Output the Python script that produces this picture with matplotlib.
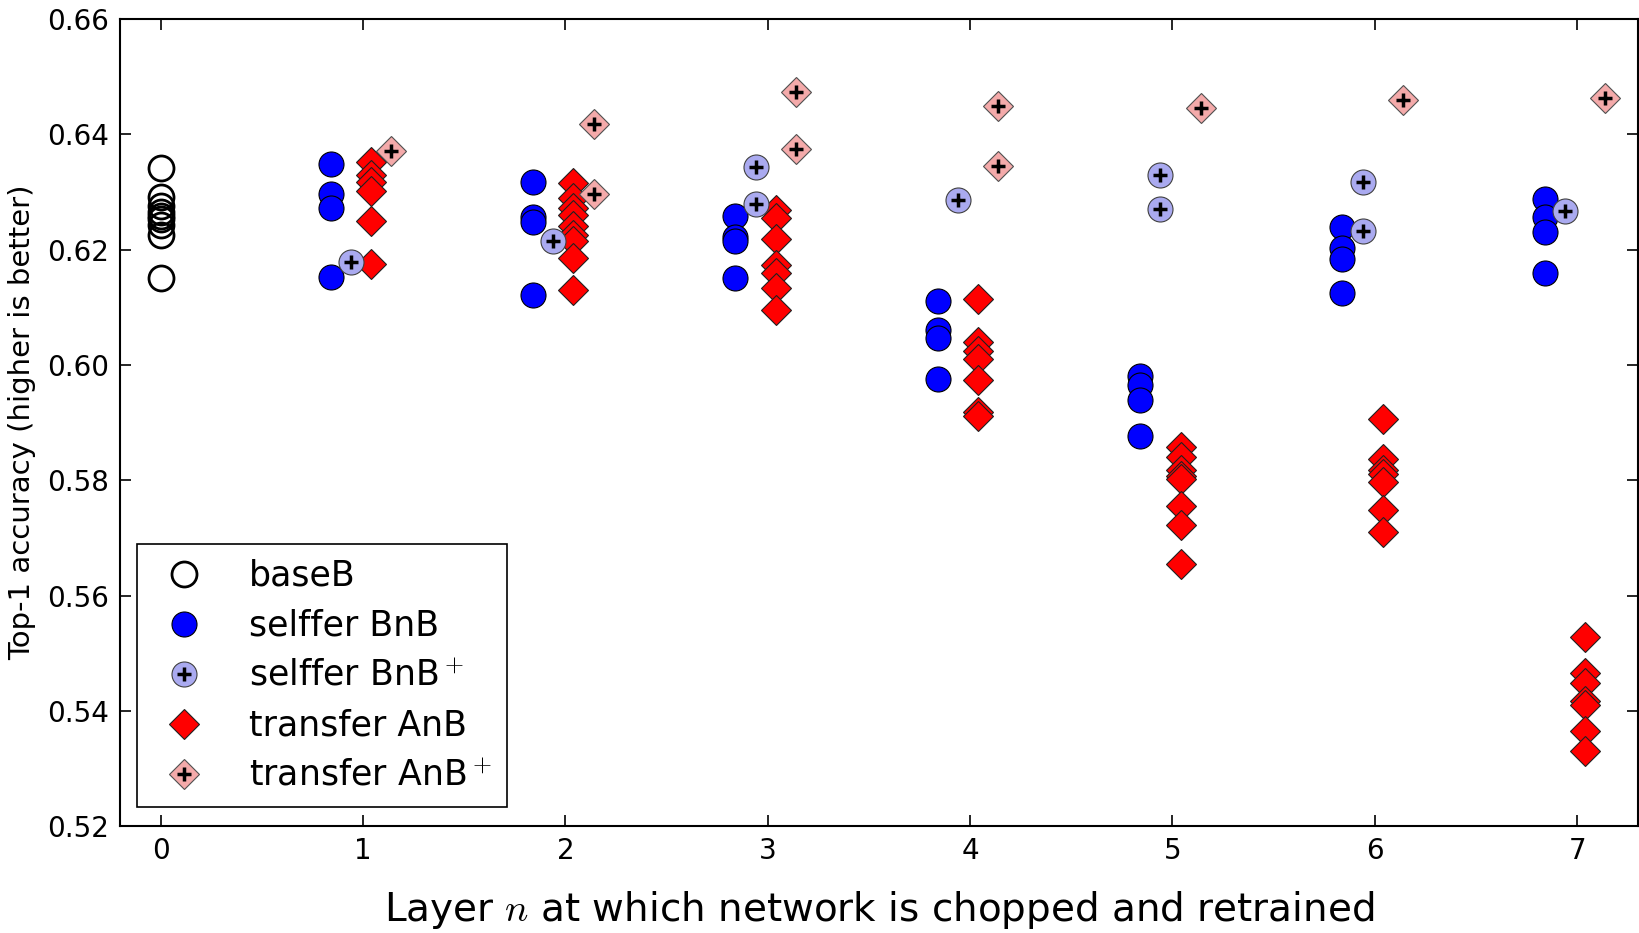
import numpy as np
import matplotlib.pyplot as plt
from matplotlib.legend_handler import HandlerTuple

plt.rcParams["mathtext.fontset"] = "cm"

layers = [1, 2, 3, 4, 5, 6, 7]

base_b = [0.6341, 0.6291, 0.6276, 0.6265, 0.6259, 0.6253, 0.6242, 0.6225, 0.6151]

selffer_bnb = [
    [0.6349, 0.6297, 0.6272, 0.6153],
    [0.6317, 0.6256, 0.6248, 0.6121],
    [0.6258, 0.6222, 0.6214, 0.6150],
    [0.6110, 0.6061, 0.6047, 0.5975],
    [0.5980, 0.5966, 0.5940, 0.5877],
    [0.6239, 0.6202, 0.6184, 0.6124],
    [0.6288, 0.6256, 0.6231, 0.6159],
]

selffer_bnb_plus = [
    [0.6178],
    [0.6214],
    [0.6344, 0.6279],
    [0.6286],
    [0.6329, 0.6271],
    [0.6318, 0.6233],
    [0.6266],
]

transfer_anb = [
    [0.6352, 0.6330, 0.6318, 0.6302, 0.6249, 0.6175],
    [0.6316, 0.6290, 0.6272, 0.6260, 0.6240, 0.6225, 0.6214, 0.6186, 0.6130],
    [0.6268, 0.6255, 0.6219, 0.6173, 0.6159, 0.6133, 0.6095],
    [0.6114, 0.6040, 0.6025, 0.6010, 0.5974, 0.5919, 0.5912],
    [0.5858, 0.5841, 0.5817, 0.5808, 0.5802, 0.5755, 0.5723, 0.5655],
    [0.5906, 0.5837, 0.5817, 0.5811, 0.5797, 0.5748, 0.5710],
    [0.5529, 0.5466, 0.5448, 0.5417, 0.5410, 0.5366, 0.5331],
]

transfer_anb_plus = [
    [0.6371],
    [0.6418, 0.6297],
    [0.6474, 0.6374],
    [0.6449, 0.6345],
    [0.6446],
    [0.6459],
    [0.6463],
]


def spread(groups, offset):
    xs, ys = [], []
    for layer, vals in zip(layers, groups):
        xs += [layer + offset] * len(vals)
        ys += vals
    return np.array(xs), np.array(ys)


fig = plt.figure(figsize=(16.4, 9.33), dpi=100)
ax = fig.add_axes([0.0733, 0.1143, 0.9254, 0.8655])

ms = 18
ms_d = 15.5
plus_kw = dict(marker="+", color="k", markersize=10.5, markeredgewidth=2.5, linestyle="none")

h_base, = ax.plot([0] * len(base_b), base_b, "o", mfc="none", mec="k", mew=2, ms=ms)

x, y = spread(selffer_bnb, -0.16)
h_bnb, = ax.plot(x, y, "o", mfc="#0000ff", mec="#000000", mew=0.8, ms=ms)

x, y = spread(transfer_anb, 0.04)
h_anb, = ax.plot(x, y, "D", mfc="#ff0000", mec="#202020", mew=0.8, ms=ms_d)

x, y = spread(selffer_bnb_plus, -0.06)
h_bnbp, = ax.plot(x, y, "o", mfc="#aaaaf0", mec="#404040", mew=0.8, ms=ms)
h_bnbp2, = ax.plot(x, y, **plus_kw)

x, y = spread(transfer_anb_plus, 0.14)
h_anbp, = ax.plot(x, y, "D", mfc="#f4aaaa", mec="#505050", mew=0.8, ms=ms_d)
h_anbp2, = ax.plot(x, y, **plus_kw)

ax.set_xlim(-0.2, 7.3)
ax.set_ylim(0.52, 0.66)
ax.set_xticks(range(8))
ax.set_yticks(np.arange(0.52, 0.661, 0.02))
ax.set_yticklabels(["%.2f" % t for t in np.arange(0.52, 0.661, 0.02)])
ax.tick_params(direction="in", length=8, width=1.2, top=True, right=True,
               labelsize=20, pad=8)
for s in ax.spines.values():
    s.set_linewidth(1.5)

ax.set_xlabel(r"Layer $n$ at which network is chopped and retrained", fontsize=28, labelpad=17)
ax.set_ylabel("Top-1 accuracy (higher is better)", fontsize=21, labelpad=8)

leg = ax.legend(
    [h_base, h_bnb, (h_bnbp, h_bnbp2), h_anb, (h_anbp, h_anbp2)],
    ["baseB", "selffer BnB", r"selffer BnB$^+$", "transfer AnB", r"transfer AnB$^+$"],
    handler_map={tuple: HandlerTuple(ndivide=1)},
    loc="lower left", bbox_to_anchor=(0.011, 0.0235), numpoints=1,
    fontsize=25, fancybox=False, framealpha=1, edgecolor="k",
    handlelength=1.9, handletextpad=0.9, borderpad=0.42, labelspacing=0.46,
    borderaxespad=0,
)
leg.get_frame().set_linewidth(1.2)

fig.savefig("out.png", dpi=100)
